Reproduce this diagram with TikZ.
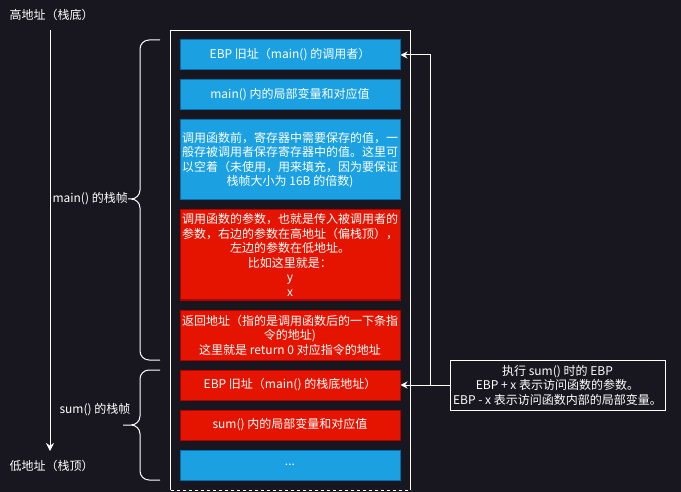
\documentclass[tikz,border=0pt]{standalone}
\usepackage{fontspec}
\setmainfont{Noto Sans CJK SC}
\usetikzlibrary{arrows.meta}

\definecolor{bgdark}{HTML}{18171F}
\definecolor{cellblue}{HTML}{1BA1E2}
\definecolor{lineblue}{HTML}{006EAF}
\definecolor{cellred}{HTML}{E51400}
\definecolor{linered}{HTML}{B20000}

\tikzset{
	cell/.style={minimum width=220pt, inner sep=1pt, align=center, text=white,
		font=\fontsize{12}{14.5}\selectfont, line width=1pt},
	bluecell/.style={cell, fill=cellblue, draw=lineblue},
	redcell/.style={cell, fill=cellred, draw=linered},
	txt/.style={text=white, font=\fontsize{12}{14.5}\selectfont, inner sep=0pt, align=center},
	wire/.style={white, line width=1pt},
	stackbrace/.style={white, line width=1pt, rounded corners=9pt}
}

\begin{document}
\begin{tikzpicture}[x=1pt, y=-1pt]
	\path[use as bounding box, fill=bgdark] (0,0) rectangle (681,492);

	% frame
	\draw [wire] (170.5,490) -- (170.5,30.5) -- (410.5,30.5) -- (410.5,490);
	\draw [wire, dashed] (170.5,490) -- (410.5,490);

	% main()
	\node [bluecell, minimum height=30pt] (ebpmain) at (290,55){EBP 旧址（main() 的调用者）};
	\node [bluecell, minimum height=30pt] (localmain) at (290,95){main() 内的局部变量和对应值};
	\node [bluecell, minimum height=80pt] (saved) at (290,160){调用函数前，寄存器中需要保存的值，一\\般存被调用者保存寄存器中的值。这里可\\以空着（未使用，用来填充，因为要保证\\栈帧大小为 16B 的倍数)};
	\node [redcell, minimum height=90pt] (args) at (290,255){调用函数的参数，也就是传入被调用者的\\参数，右边的参数在高地址（偏栈顶），\\左边的参数在低地址。\\比如这里就是：\\y\\x};
	\node [redcell, minimum height=50pt] (ret) at (290,335){返回地址（指的是调用函数后的一下条指\\令的地址)\\这里就是 return 0 对应指令的地址};

	% sum()
	\node [redcell, minimum height=30pt] (ebpsum) at (290,385){EBP 旧址（main() 的栈底地址）};
	\node [redcell, minimum height=30pt] (localsum) at (290,425){sum() 内的局部变量和对应值};
	\node [bluecell, minimum height=30pt] (rest) at (290,465){...};

	% note
	\node [txt, draw=white, line width=1pt, minimum width=215pt, minimum height=50pt, fill=bgdark] (note) at (557.5,385){执行 sum() 时的 EBP\\EBP + x 表示访问函数的参数。\\EBP - x 表示访问函数内部的局部变量。};
	\coordinate (turn) at (430,385);
	\draw [wire, -{Stealth[length=7pt,width=7pt]}] (note.west) -- (ebpsum.east);
	\draw [wire, -{Stealth[length=7pt,width=7pt]}] (turn) |- (ebpmain.east);

	% address axis
	\coordinate (hi) at (50,30);
	\coordinate (lo) at (50,451);
	\draw [wire, -{Stealth[length=8pt,width=8pt]}] (hi) -- (lo);
	\node [txt] (hilabel) at (51.5,15){高地址（栈底）};
	\node [txt] (lolabel) at (51.5,466){低地址（栈顶）};

	% braces
	\draw [stackbrace] (160,40) -- (140,40) -- (140,199) -- (128,199)
		(128,199) -- (140,199) -- (140,360) -- (160,360);
	\draw [stackbrace] (160,370) -- (140,370) -- (140,425) -- (123,425)
		(123,425) -- (140,425) -- (140,480) -- (160,480);
	\node [txt, anchor=east] (mainframe) at (128,199){main() 的栈帧};
	\node [txt] (sumframe) at (95,410){sum() 的栈帧};
\end{tikzpicture}
\end{document}
